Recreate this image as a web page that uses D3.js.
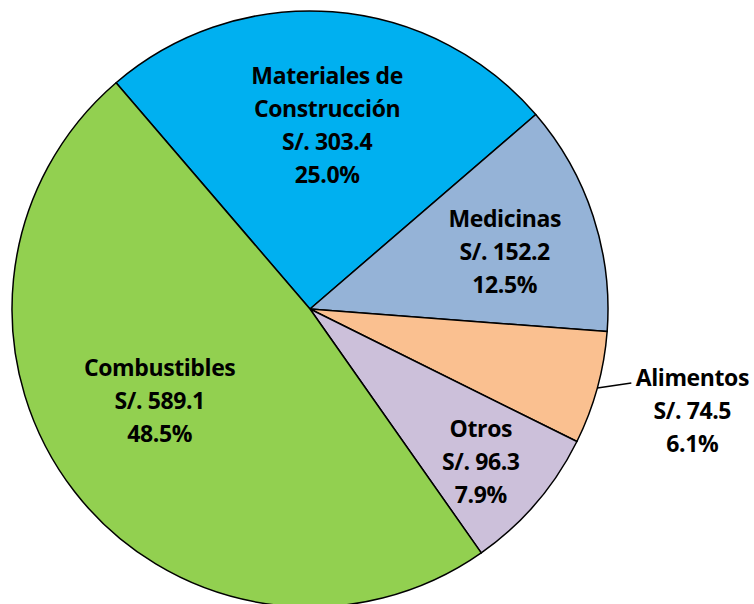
<!DOCTYPE html>
<html><head><meta charset="utf-8">
<script src="https://cdn.jsdelivr.net/npm/d3@7"></script>
<style>body{margin:0;background:#fff}svg{display:block}</style>
</head><body>
<svg id="c" width="754" height="604"></svg>
<script>
const categories = ["Materiales de Construcción", "Medicinas", "Alimentos", "Otros", "Combustibles"];
const labelLines = [["Materiales de", "Construcción"], ["Medicinas"], ["Alimentos"], ["Otros"], ["Combustibles"]];
const values = [303.4, 152.2, 74.5, 96.3, 589.1];
const percents = ["25.0%", "12.5%", "6.1%", "7.9%", "48.5%"];
const colors = ["#00B0F0", "#95B3D7", "#FAC090", "#CCC0DA", "#92D050"];

const cx = 310, cy = 309, R = 298;
const svg = d3.select("#c");
const g = svg.append("g").attr("transform", `translate(${cx},${cy})`);
const start = -40.6 * Math.PI / 180;
const pie = d3.pie().sort(null).value(d => d).startAngle(start).endAngle(start + 2 * Math.PI);
const arcs = pie(values);
const arc = d3.arc().innerRadius(0).outerRadius(R);

g.selectAll("path.slice").data(arcs).join("path")
  .attr("class", "slice")
  .attr("d", arc)
  .attr("fill", (d, i) => colors[i])
  .attr("stroke", "#000")
  .attr("stroke-width", 1.5)
  .attr("stroke-linejoin", "round");

// label anchor radii/angle tweaks (layout)
const labelR = [184, 203, null, 229, 176];
const angleShift = [1.0, 1.8, 0, 1.1, 6.5];
const fs = 23, lh = 33;

arcs.forEach((d, i) => {
  const lines = labelLines[i].concat(["S/. " + values[i].toFixed(1), percents[i]]);
  let x, y;
  if (labelR[i] === null) {
    const a = (d.startAngle + d.endAngle) / 2;
    const px = Math.sin(a) * R, py = -Math.cos(a) * R;
    g.append("line").attr("x1", px).attr("y1", py).attr("x2", px + 34).attr("y2", py - 5)
      .attr("stroke", "#000").attr("stroke-width", 1.5);
    x = px + 95; y = py + 23;
  } else {
    const a = (d.startAngle + d.endAngle) / 2 + angleShift[i] * Math.PI / 180;
    x = Math.sin(a) * labelR[i]; y = -Math.cos(a) * labelR[i];
  }
  const t = g.append("text")
    .attr("text-anchor", "middle")
    .attr("font-family", "'Open Sans', sans-serif")
    .attr("font-weight", "bold")
    .attr("font-size", fs)
    .attr("letter-spacing", -0.4)
    .attr("fill", "#000");
  const n = lines.length;
  lines.forEach((s, k) => {
    t.append("tspan").attr("x", x).attr("y", y + (k - (n - 1) / 2) * lh + 8).text(s);
  });
});
</script>
</body></html>
